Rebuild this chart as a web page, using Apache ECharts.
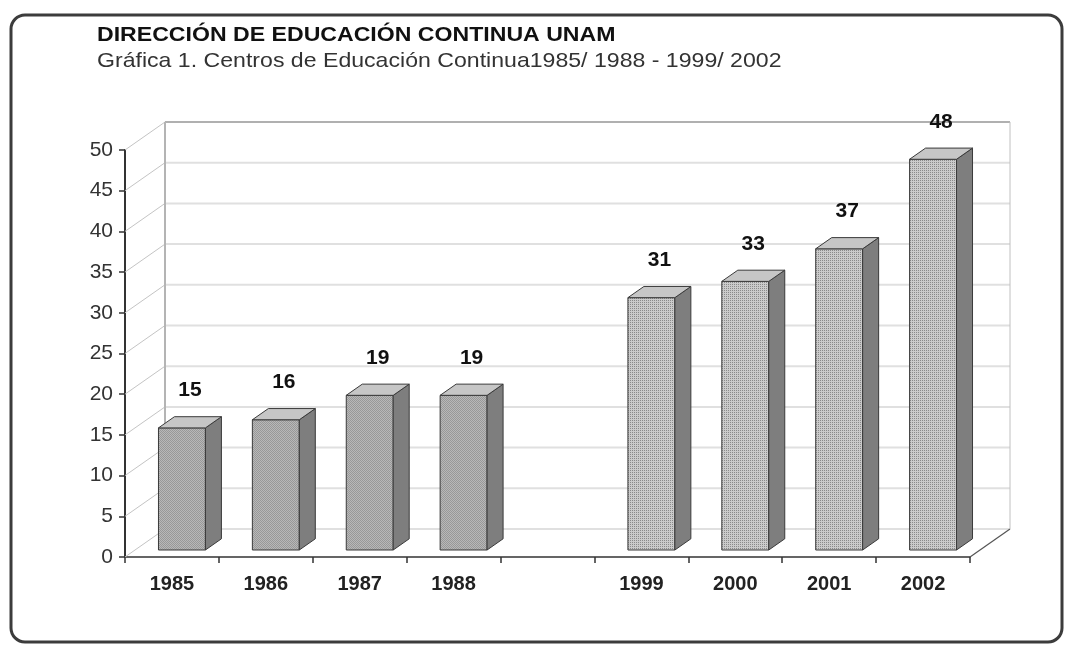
<!DOCTYPE html>
<html><head><meta charset="utf-8">
<script src="https://cdn.jsdelivr.net/npm/echarts@6/dist/echarts.min.js"></script>
<style>html,body{margin:0;padding:0;background:#fff}#c{width:1069px;height:645px}</style>
</head><body><div id="c"></div>
<script>
const titleText = 'DIRECCIÓN DE EDUCACIÓN CONTINUA UNAM';
const subtitleText = 'Gráfica 1. Centros de Educación Continua1985/ 1988 - 1999/ 2002';
const categories = ['1985', '1986', '1987', '1988', '', '1999', '2000', '2001', '2002'];
const values = [15, 16, 19, 19, null, 31, 33, 37, 48];
const yMin = 0, yMax = 50, yStep = 5;
const gridValues = [0, 5, 10, 15, 20, 25, 30, 35, 40, 45, 50];

// 3D look
const DX = 40, DY = -28;      // wall depth offset
const F0 = 0.25, F1 = 0.65;   // bar depth range (fraction of wall depth)
const FONT = '"Liberation Sans", Arial, sans-serif';

function makePattern(size, bg, dot, pts) {
  const c = document.createElement('canvas');
  c.width = c.height = size;
  const g = c.getContext('2d');
  g.fillStyle = bg; g.fillRect(0, 0, size, size);
  g.fillStyle = dot;
  pts.forEach(p => g.fillRect(p[0], p[1], 1, 1));
  return c;
}
const patLeft = makePattern(2, '#b8b8b8', '#989898', [[0, 0], [1, 1]]);
const patRight = makePattern(4, '#cbcbcb', '#8a8a8a', [[0, 0], [2, 0], [0, 2], [2, 2]]);

const barData = [];
categories.forEach((c, i) => { if (values[i] != null) barData.push([i, values[i]]); });
const wallData = gridValues.map(v => [0, v]);

function renderWall(params, api) {
  const cs = params.coordSys;
  const v = api.value(1);
  const y = api.coord([0, v])[1];
  const x0 = cs.x, x1 = cs.x + cs.width;
  const ch = [];
  ch.push({ type: 'line', shape: { x1: x0 + DX, y1: y + DY, x2: x1 + DX, y2: y + DY },
    style: { stroke: v === yMax ? '#b0b0b0' : '#e0e0e0', lineWidth: 2 } });
  ch.push({ type: 'line', shape: { x1: x0, y1: y, x2: x0 + DX, y2: y + DY },
    style: { stroke: '#c4c4c4', lineWidth: 1 } });
  if (v === yMin) {
    ch.push({ type: 'line', shape: { x1: x1, y1: y, x2: x1 + DX, y2: y + DY },
      style: { stroke: '#555', lineWidth: 1.2 } });
  }
  if (v === yMax) {
    const yb = api.coord([0, yMin])[1];
    ch.push({ type: 'line', shape: { x1: x0 + DX, y1: y + DY, x2: x0 + DX, y2: yb + DY },
      style: { stroke: '#b4b4b4', lineWidth: 2 } });
    ch.push({ type: 'line', shape: { x1: x1 + DX, y1: y + DY, x2: x1 + DX, y2: yb + DY },
      style: { stroke: '#c0c0c0', lineWidth: 1 } });
  }
  return { type: 'group', children: ch };
}

function renderBar(params, api) {
  const idx = api.value(0);
  const v = api.value(1);
  const base = api.coord([idx, 0]);
  const top = api.coord([idx, v]);
  const bw = api.size([1, 0])[0] * 0.5;
  const ox = DX * F0, oy = DY * F0;
  const dx = DX * (F1 - F0), dy = DY * (F1 - F0);
  const x0 = base[0] - bw / 2 + ox, x1 = x0 + bw;
  const yb = base[1] + oy, yt = top[1] + oy;
  const pat = idx > 4 ? patRight : patLeft;
  const edge = { stroke: '#3a3a3a', lineWidth: 1 };
  return {
    type: 'group',
    children: [
      { type: 'polygon', shape: { points: [[x0, yt], [x1, yt], [x1, yb], [x0, yb]] },
        style: Object.assign({ fill: { image: pat, repeat: 'repeat' } }, edge) },
      { type: 'polygon', shape: { points: [[x1, yt], [x1 + dx, yt + dy], [x1 + dx, yb + dy], [x1, yb]] },
        style: Object.assign({ fill: '#7e7e7e' }, edge) },
      { type: 'polygon', shape: { points: [[x0, yt], [x0 + dx, yt + dy], [x1 + dx, yt + dy], [x1, yt]] },
        style: Object.assign({ fill: '#c6c6c6' }, edge) },
      { type: 'text', style: { text: String(v), x: (x0 + x1 + dx) / 2, y: yt + dy - 26,
        align: 'center', verticalAlign: 'middle', font: 'bold 21px ' + FONT, fill: '#111' } }
    ]
  };
}

const chart = echarts.init(document.getElementById('c'), null, { renderer: 'canvas' });
chart.setOption({
  backgroundColor: '#fff',
  animation: false,
  graphic: [
    { type: 'rect', shape: { x: 11, y: 15, width: 1051, height: 627, r: 14 },
      style: { fill: 'none', stroke: '#3c3c3c', lineWidth: 3 }, z: 0 },
    { type: 'text', x: 97, y: 35, scaleX: 1.1,
      style: { text: titleText, font: 'bold 21px ' + FONT, fill: '#111', verticalAlign: 'middle' } },
    { type: 'text', x: 97, y: 61, scaleX: 1.1,
      style: { text: subtitleText, font: '21px ' + FONT, fill: '#333', verticalAlign: 'middle' } }
  ],
  grid: { left: 125, right: 99, top: 150, bottom: 88 },
  xAxis: {
    type: 'category', data: categories, boundaryGap: true,
    axisLine: { lineStyle: { color: '#333', width: 1.5 } },
    axisTick: { show: true, length: 6, lineStyle: { color: '#333', width: 1.5 } },
    axisLabel: { fontFamily: FONT, fontWeight: 'bold', fontSize: 20, color: '#222', margin: 17 },
    splitLine: { show: false }
  },
  yAxis: {
    type: 'value', min: yMin, max: yMax, interval: yStep,
    axisLine: { show: true, lineStyle: { color: '#333', width: 2 } },
    axisTick: { show: true, length: 6, lineStyle: { color: '#333', width: 1.5 } },
    axisLabel: { fontFamily: FONT, fontSize: 21, color: '#333', margin: 12 },
    splitLine: { show: false }
  },
  series: [
    { type: 'custom', name: 'walls', renderItem: renderWall, data: wallData, silent: true, clip: false, z: 1 },
    { type: 'custom', name: 'Centros', renderItem: renderBar, data: barData, clip: false, z: 3 }
  ]
});
</script></body></html>
